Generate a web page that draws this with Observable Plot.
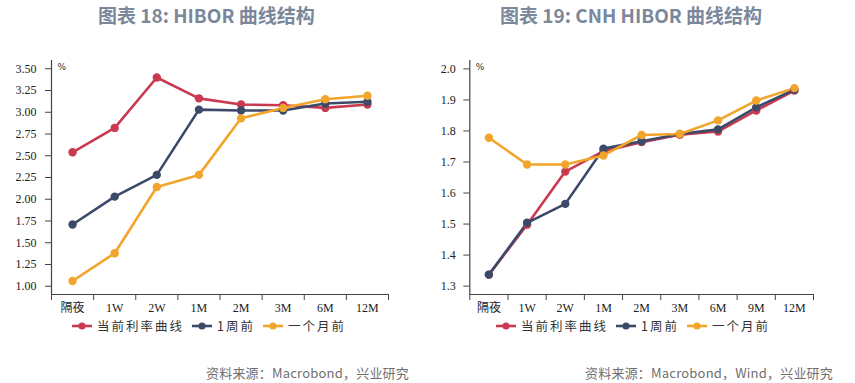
<!DOCTYPE html>
<html>
<head>
<meta charset="utf-8">
<script src="https://cdn.jsdelivr.net/npm/d3@7"></script>
<script src="https://cdn.jsdelivr.net/npm/@observablehq/plot@0.6"></script>
<style>
  html, body { margin: 0; padding: 0; background: #fff; }
  #root { position: relative; width: 855px; height: 383px; overflow: hidden; }
  .title { position: absolute; top: 1px; font-family: "Noto Sans CJK SC", sans-serif; font-weight: bold; font-size: 19px; color: #7b879b; white-space: nowrap; }
  .chart { position: absolute; top: 40px; }
  .legend { position: absolute; top: 316px; font-family: "Noto Sans CJK SC", sans-serif; font-size: 12.5px; letter-spacing: 2px; color: #333; white-space: nowrap; display: flex; align-items: center; }
  .legend .item { display: flex; align-items: center; margin-right: 8px; }
  .legend svg { margin-right: 5px; }
  .source { position: absolute; top: 363px; font-family: "Noto Sans CJK SC", sans-serif; font-size: 13px; letter-spacing: 0.2px; color: #707070; white-space: nowrap; text-align: right; }
</style>
</head>
<body>
<div id="root">
  <div class="title" style="left:98px">图表 18: HIBOR 曲线结构</div>
  <div class="title" style="left:500px">图表 19: CNH HIBOR 曲线结构</div>
  <div class="chart" id="c1" style="left:0px"></div>
  <div class="chart" id="c2" style="left:430px"></div>
  <div class="legend" id="lg1" style="left:72px"></div>
  <div class="legend" id="lg2" style="left:496px"></div>
  <div class="source" style="right:446px">资料来源：Macrobond，兴业研究</div>
  <div class="source" style="right:22px">资料来源：Macrobond，Wind，兴业研究</div>
</div>
<script>
// ---- Data ----
const seriesNames = ["当前利率曲线", "1周前", "一个月前"];
const seriesColors = ["#c93a51", "#3c4a69", "#f2a52b"];

const hiborTenors = ["隔夜", "1W", "2W", "1M", "2M", "3M", "6M", "12M"];
const hiborCurrent = [2.54, 2.82, 3.40, 3.16, 3.09, 3.08, 3.05, 3.09];
const hiborWeek    = [1.71, 2.03, 2.28, 3.03, 3.02, 3.02, 3.10, 3.12];
const hiborMonth   = [1.06, 1.38, 2.14, 2.28, 2.93, 3.05, 3.15, 3.19];
const hiborYTicks  = [1.00, 1.25, 1.50, 1.75, 2.00, 2.25, 2.50, 2.75, 3.00, 3.25, 3.50];

const cnhTenors  = ["隔夜", "1W", "2W", "1M", "2M", "3M", "6M", "9M", "12M"];
const cnhCurrent = [1.337, 1.498, 1.669, 1.735, 1.764, 1.788, 1.798, 1.866, 1.930];
const cnhWeek    = [1.337, 1.504, 1.565, 1.743, 1.767, 1.790, 1.805, 1.876, 1.933];
const cnhMonth   = [1.778, 1.692, 1.692, 1.721, 1.787, 1.790, 1.834, 1.898, 1.938];
const cnhYTicks  = [1.3, 1.4, 1.5, 1.6, 1.7, 1.8, 1.9, 2.0];

function buildRows(tenors, arrays) {
  const rows = [];
  arrays.forEach((arr, s) => arr.forEach((v, i) => rows.push({series: seriesNames[s], idx: i + 0.5, value: v})));
  return rows;
}

function makeChart({tenors, arrays, yTicks, yDomain, fmt, width, marginLeft, marginRight, tickPadY}) {
  const rows = buildRows(tenors, arrays);
  const n = tenors.length;
  const axisColor = "#444";
  return Plot.plot({
    width, height: 280,
    marginTop: 20, marginBottom: 26, marginLeft, marginRight,
    style: {fontFamily: "'Liberation Serif', 'Noto Sans CJK SC', serif", fontSize: "12px", color: "#222", background: "transparent"},
    x: {domain: [0, n]},
    y: {domain: yDomain},
    color: {domain: seriesNames, range: seriesColors},
    marks: [
      Plot.axisY({ticks: yTicks, tickFormat: fmt, tickSize: 6, tickPadding: tickPadY, label: null, stroke: axisColor}),
      Plot.ruleX([0], {stroke: axisColor, strokeWidth: 1.2}),
      Plot.ruleY([yDomain[0]], {stroke: axisColor, strokeWidth: 1.2}),
      Plot.axisX({ticks: d3.range(0, n + 1), tickFormat: () => "", tickSize: 6, label: null, stroke: axisColor}),
      Plot.axisX({ticks: d3.range(n).map(i => i + 0.5), tickFormat: d => tenors[Math.floor(d)], tickSize: 0, tickPadding: 9, label: null}),
      Plot.text(["%"], {frameAnchor: "top-left", dx: 6, dy: 3, fontSize: 9, fill: "#333", fontFamily: "'DejaVu Sans', sans-serif"}),
      Plot.line(rows, {x: "idx", y: "value", stroke: "series", z: "series", strokeWidth: 2.6}),
      Plot.dot(rows, {x: "idx", y: "value", fill: "series", r: 4.2})
    ]
  });
}

document.getElementById("c1").append(makeChart({
  tenors: hiborTenors, arrays: [hiborCurrent, hiborWeek, hiborMonth],
  yTicks: hiborYTicks, yDomain: [0.905, 3.595], fmt: d3.format(".2f"),
  width: 430, marginLeft: 51, marginRight: 42, tickPadY: 9
}));
document.getElementById("c2").append(makeChart({
  tenors: cnhTenors, arrays: [cnhCurrent, cnhWeek, cnhMonth],
  yTicks: cnhYTicks, yDomain: [1.273, 2.027], fmt: d3.format(".1f"),
  width: 425, marginLeft: 39.3, marginRight: 42, tickPadY: 8
}));

function legend(id) {
  const el = document.getElementById(id);
  seriesNames.forEach((name, i) => {
    const item = document.createElement("div");
    item.className = "item";
    item.innerHTML = `<svg width="20" height="10"><line x1="0" x2="20" y1="5" y2="5" stroke="${seriesColors[i]}" stroke-width="2.6"/><circle cx="10" cy="5" r="3.6" fill="${seriesColors[i]}"/></svg><span>${name}</span>`;
    el.append(item);
  });
}
legend("lg1");
legend("lg2");
</script>
</body>
</html>
